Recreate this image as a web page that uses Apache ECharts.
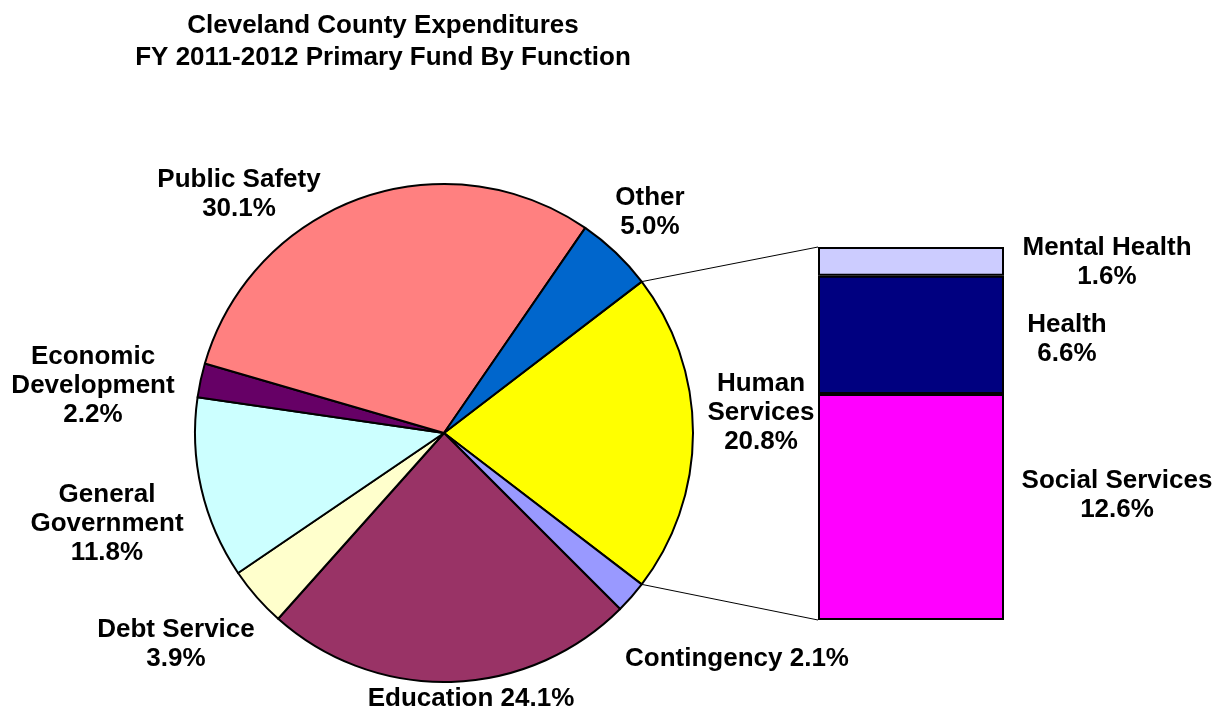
<!DOCTYPE html>
<html>
<head>
<meta charset="utf-8">
<script src="https://cdn.jsdelivr.net/npm/echarts@6/dist/echarts.min.js"></script>
<style>
html,body{margin:0;padding:0;background:#fff;}
#chart{width:1217px;height:715px;}
</style>
</head>
<body>
<div id="chart"></div>
<script>
// ---- Data ----
const titleText = 'Cleveland County Expenditures\nFY 2011-2012 Primary Fund By Function';
const pieNames = ['Human\nServices', 'Contingency', 'Education', 'Debt Service', 'General\nGovernment', 'Economic\nDevelopment', 'Public Safety', 'Other'];
const pieValues = [20.8, 2.1, 24.1, 3.9, 11.8, 2.2, 30.1, 5.0];
const pieColors = ['#FFFF00', '#9999FF', '#993366', '#FFFFCC', '#CCFFFF', '#660066', '#FF8080', '#0066CC'];
const barNames = ['Social Services', 'Health', 'Mental Health'];
const barValues = [12.6, 6.6, 1.6];
const barColors = ['#FF00FF', '#000080', '#CCCCFF'];

// ---- Layout (positions/styles) ----
const FONT = "'Liberation Sans', Arial, sans-serif";
const pieCenter = [444, 433];
const pieRadius = 249;
const gridBox = {left: 818, top: 247, width: 186, height: 373};
// label positions [x, y] (text block centers)
const pieLabelPos = [[761, 413], [737, 659], [471, 699], [176, 644], [107, 524], [93, 386], [239, 194], [650, 212]];
const pieLabelSep = ['\n', ' ', ' ', '\n', '\n', '\n', '\n', '\n'];
const barLabelPos = [[1117, 495], [1067, 339], [1107, 262]];
const barLabelSep = ['\n', '\n', '\n'];

const hsShare = pieValues[0];
const startAngle = 360 * hsShare / 100 / 2;
const barTotal = barValues.reduce((a, b) => a + b, 0);

const chart = echarts.init(document.getElementById('chart'), null, {renderer: 'canvas'});

const labelStyle = {color: '#000', fontFamily: FONT, fontWeight: 'bold', fontSize: 26, lineHeight: 29, align: 'center'};

const pieData = pieNames.map((n, i) => ({
  name: n, value: pieValues[i], itemStyle: {color: pieColors[i]},
  label: {formatter: n + pieLabelSep[i] + pieValues[i].toFixed(1) + '%'}
}));

const barSeries = barNames.map((n, i) => ({
  type: 'bar', name: n, stack: 'hs', barWidth: '100%',
  data: [barValues[i]],
  itemStyle: {color: barColors[i], borderColor: '#000', borderWidth: 2},
  label: Object.assign({show: true, position: 'right', formatter: n + barLabelSep[i] + barValues[i].toFixed(1) + '%'}, labelStyle),
  labelLayout: function () {
    return {x: barLabelPos[i][0], y: barLabelPos[i][1], align: 'center', verticalAlign: 'middle'};
  },
  emphasis: {disabled: true},
  animation: false
}));

const option = {
  backgroundColor: '#fff',
  animation: false,
  title: {
    text: titleText, left: 378, top: 5, textAlign: 'center',
    textStyle: {fontFamily: FONT, fontWeight: 'bold', fontSize: 26, lineHeight: 32, color: '#000'}
  },
  grid: {left: gridBox.left, top: gridBox.top, width: gridBox.width, height: gridBox.height, containLabel: false},
  xAxis: {type: 'category', data: ['Human Services'], show: false, boundaryGap: true},
  yAxis: {type: 'value', min: 0, max: barTotal, show: false},
  series: [
    {
      type: 'pie', center: pieCenter, radius: pieRadius, startAngle: startAngle, clockwise: true,
      minAngle: 0, avoidLabelOverlap: false,
      data: pieData,
      itemStyle: {borderColor: '#000', borderWidth: 2},
      label: Object.assign({show: true, position: 'outside'}, labelStyle),
      labelLine: {show: false},
      labelLayout: function (p) {
        const pos = pieLabelPos[p.dataIndex];
        return {x: pos[0], y: pos[1], align: 'center', verticalAlign: 'middle'};
      },
      emphasis: {disabled: true},
      animation: false
    }
  ].concat(barSeries)
};
chart.setOption(option);

// connector lines from Human Services slice edges to bar corners
const a = startAngle * Math.PI / 180;
const pTop = [pieCenter[0] + pieRadius * Math.cos(a), pieCenter[1] - pieRadius * Math.sin(a)];
const pBot = [pieCenter[0] + pieRadius * Math.cos(a), pieCenter[1] + pieRadius * Math.sin(a)];
const yTop = chart.convertToPixel({yAxisIndex: 0}, barTotal);
const yBot = chart.convertToPixel({yAxisIndex: 0}, 0);
const xLeft = gridBox.left;
chart.setOption({
  graphic: [
    {type: 'line', shape: {x1: pTop[0], y1: pTop[1], x2: xLeft, y2: yTop}, style: {stroke: '#000', lineWidth: 1}, z: 10},
    {type: 'line', shape: {x1: pBot[0], y1: pBot[1], x2: xLeft, y2: yBot}, style: {stroke: '#000', lineWidth: 1}, z: 10}
  ]
});
</script>
</body>
</html>
